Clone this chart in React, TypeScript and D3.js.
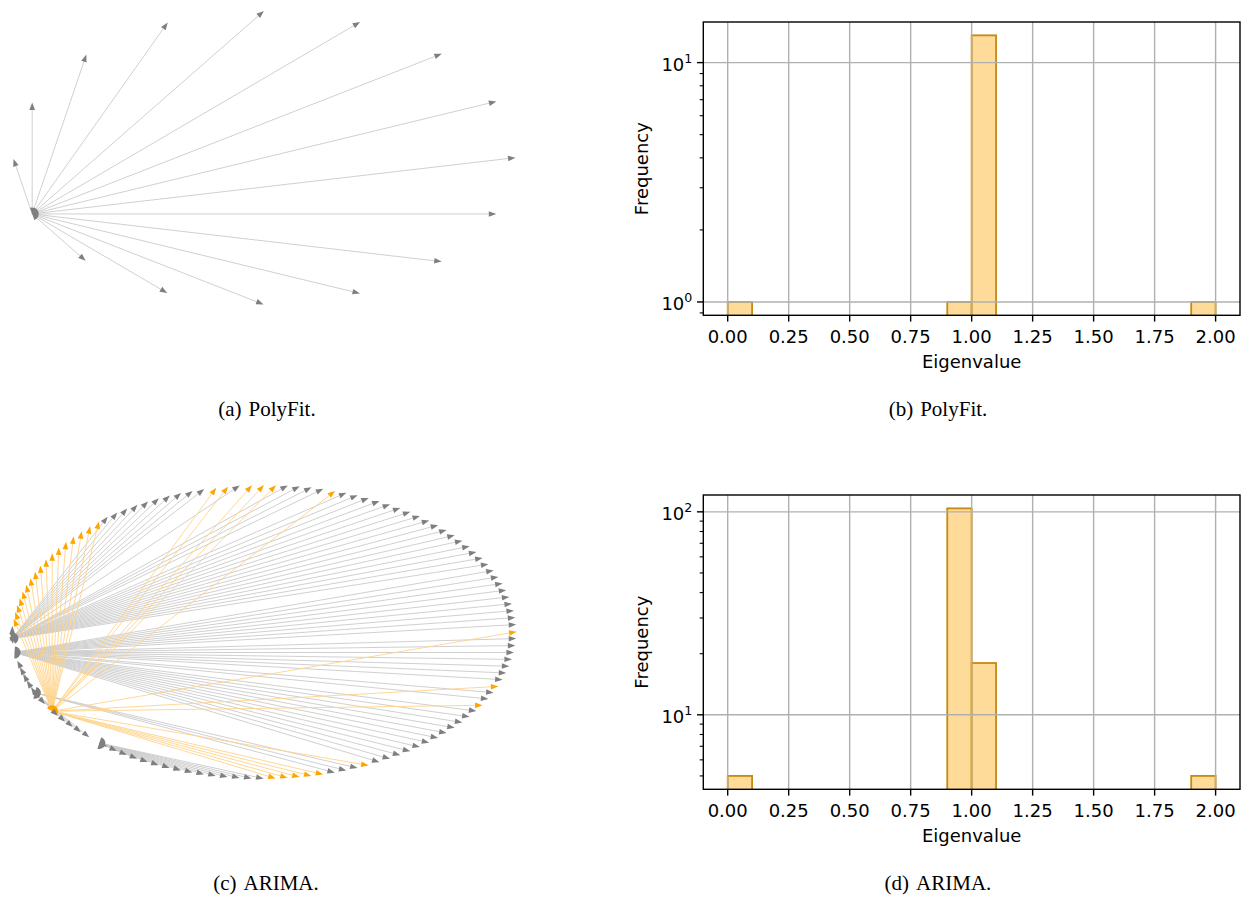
import React from 'react';
import * as d3 from 'd3';

const W = 1249;
const H = 901;

// ---------- (a) PolyFit network: circular layout, one hub ----------
const polyNodeCount = 16;
const polyHub = 9;
const polyLeaves = [0, 1, 2, 3, 4, 5, 6, 7, 8, 10, 11, 12, 13, 14, 15];

// ---------- (c) ARIMA network: circular layout, five hubs ----------
const arimaNodeCount = 132;
const arimaHubs = [67, 69, 75, 78, 84];
const arimaHubColors = ['gray', 'gray', 'gray', 'orange', 'gray'];
// leaf index ranges [from, to] per hub
const arimaLeafRanges: number[][][] = [
  [[10, 26], [28, 31], [35, 35], [38, 47], [65, 66], [68, 68]],
  [[1, 9], [109, 120], [122, 123], [125, 131]],
  [[70, 74], [76, 77], [79, 83], [105, 107]],
  [[0, 0], [27, 27], [32, 34], [36, 37], [48, 64], [100, 104], [108, 108], [121, 121], [124, 124]],
  [[85, 99]],
];

// ---------- (b),(d) eigenvalue histograms ----------
const binWidth = 0.1;
const polyCounts = [1, 0, 0, 0, 0, 0, 0, 0, 0, 1, 13, 0, 0, 0, 0, 0, 0, 0, 0, 1];
const arimaCounts = [5, 0, 0, 0, 0, 0, 0, 0, 0, 104, 18, 0, 0, 0, 0, 0, 0, 0, 0, 5];
const xTicks = [0, 0.25, 0.5, 0.75, 1.0, 1.25, 1.5, 1.75, 2.0];
const xDomain = [-0.1, 2.1];

const captions = [
  { label: '(a)', name: 'PolyFit.' },
  { label: '(b)', name: 'PolyFit.' },
  { label: '(c)', name: 'ARIMA.' },
  { label: '(d)', name: 'ARIMA.' },
];

const COLORS = {
  gray: { line: '#cbcbcb', head: '#7f7f7f' },
  orange: { line: '#ffd48a', head: '#ffa500' },
};

function arrowGeom(sx: number, sy: number, tx: number, ty: number) {
  const dx = tx - sx, dy = ty - sy;
  const L = Math.hypot(dx, dy) || 1;
  const ux = dx / L, uy = dy / L;
  const shrink = 1.5, len = 7.5, hw = 2.8;
  const tipX = tx - ux * shrink, tipY = ty - uy * shrink;
  const bX = tipX - ux * len, bY = tipY - uy * len;
  const px = -uy, py = ux;
  return {
    x1: sx, y1: sy, x2: bX, y2: bY,
    head: `M${tipX},${tipY}L${bX + px * hw},${bY + py * hw}L${bX - px * hw},${bY - py * hw}Z`,
  };
}

function expand(ranges: number[][]) {
  const out: number[] = [];
  ranges.forEach(([a, b]) => { for (let i = a; i <= b; i++) out.push(i); });
  return out;
}

type Edge = { s: number; t: number; color: 'gray' | 'orange' };

function Network({ n, xRange, yRange, hubs, hubColors, edges, hubR }: {
  n: number; xRange: number[]; yRange: number[]; hubs: number[]; hubColors: string[]; edges: Edge[]; hubR: number;
}) {
  const sx = d3.scaleLinear().domain([-1, 1]).range(xRange);
  const sy = d3.scaleLinear().domain([-1, 1]).range(yRange);
  const pos = d3.range(n).map(i => {
    const a = (2 * Math.PI * i) / n;
    return [sx(Math.cos(a)), sy(Math.sin(a))];
  });
  const geoms = edges.map(e => ({ e, g: arrowGeom(pos[e.s][0], pos[e.s][1], pos[e.t][0], pos[e.t][1]) }));
  const ordered = [...geoms.filter(d => d.e.color === 'gray'), ...geoms.filter(d => d.e.color === 'orange')];
  const arc = d3.arc();
  return (
    <g>
      {ordered.map((d, i) => (
        <line key={'l' + i} x1={d.g.x1} y1={d.g.y1} x2={d.g.x2} y2={d.g.y2}
          stroke={COLORS[d.e.color].line} strokeWidth={0.9} />
      ))}
      {hubs.map((h, k) => {
        const out = edges.filter(e => e.s === h);
        let mx = 0, my = 0;
        out.forEach(e => {
          const dx = pos[e.t][0] - pos[h][0], dy = pos[e.t][1] - pos[h][1];
          const L = Math.hypot(dx, dy) || 1;
          mx += dx / L; my += dy / L;
        });
        const ang = Math.atan2(mx, -my);
        const path = arc({ innerRadius: 0, outerRadius: hubR, startAngle: ang - Math.PI / 2, endAngle: ang + Math.PI / 2 } as any) as string;
        return (
          <path key={'h' + k} d={path} transform={`translate(${pos[h][0]},${pos[h][1]})`}
            fill={COLORS[hubColors[k] as 'gray' | 'orange'].head} />
        );
      })}
      {ordered.map((d, i) => (
        <path key={'a' + i} d={d.g.head} fill={COLORS[d.e.color].head} />
      ))}
    </g>
  );
}

function Histogram({ counts, top, bottom, left, right, clipId }: {
  counts: number[]; top: number; bottom: number; left: number; right: number; clipId: string;
}) {
  const x = d3.scaleLinear().domain(xDomain).range([left, right]);
  const nz = counts.filter(c => c > 0);
  const lmin = Math.log10(d3.min(nz) as number);
  const lmax = Math.log10(d3.max(nz) as number);
  const m = 0.05 * (lmax - lmin);
  const y = d3.scaleLog().domain([Math.pow(10, lmin - m), Math.pow(10, lmax + m)]).range([bottom, top]);
  const [d0, d1] = y.domain();
  const majors: number[] = [];
  const minors: number[] = [];
  for (let e = Math.floor(Math.log10(d0)) - 1; e <= Math.ceil(Math.log10(d1)); e++) {
    for (let k = 1; k <= 9; k++) {
      const v = k * Math.pow(10, e);
      if (v >= d0 && v <= d1) (k === 1 ? majors : minors).push(v);
    }
  }
  const fmt = d3.format('.2f');
  const font = 'DejaVu Sans, sans-serif';
  const gridColor = '#b0b0b0';
  const edge = '#c48a12';
  return (
    <g>
      <defs>
        <clipPath id={clipId}>
          <rect x={left} y={top} width={right - left} height={bottom - top} />
        </clipPath>
      </defs>
      <g clipPath={`url(#${clipId})`}>
        {counts.map((c, i) => c > 0 ? (
          <rect key={i} x={x(i * binWidth)} y={y(c)} width={x((i + 1) * binWidth) - x(i * binWidth)}
            height={bottom + 20 - y(c)} fill="#ffdb99" stroke={edge} strokeWidth={1.8} />
        ) : null)}
        {xTicks.map(t => (
          <line key={'gx' + t} x1={x(t)} x2={x(t)} y1={top} y2={bottom} stroke={gridColor} strokeWidth={1.4} />
        ))}
        {majors.map(v => (
          <line key={'gy' + v} x1={left} x2={right} y1={y(v)} y2={y(v)} stroke={gridColor} strokeWidth={1.4} />
        ))}
      </g>
      <rect x={left} y={top} width={right - left} height={bottom - top} fill="none" stroke="#000" strokeWidth={1.4} />
      {xTicks.map(t => (
        <g key={'xt' + t}>
          <line x1={x(t)} x2={x(t)} y1={bottom} y2={bottom + 6.3} stroke="#000" strokeWidth={1.4} />
          <text x={x(t)} y={bottom + 28} textAnchor="middle" fontFamily={font} fontSize={18} fill="#000">{fmt(t)}</text>
        </g>
      ))}
      {majors.map(v => (
        <g key={'yt' + v}>
          <line x1={left - 6.3} x2={left} y1={y(v)} y2={y(v)} stroke="#000" strokeWidth={1.4} />
          <text x={left - 11} y={y(v) + 8} textAnchor="end" fontFamily={font} fontSize={18} fill="#000">
            10<tspan dy={-8} fontSize={12.6}>{Math.round(Math.log10(v))}</tspan>
          </text>
        </g>
      ))}
      {minors.map(v => (
        <line key={'ym' + v} x1={left - 3.6} x2={left} y1={y(v)} y2={y(v)} stroke="#000" strokeWidth={1.1} />
      ))}
      <text x={(left + right) / 2} y={bottom + 52.7} textAnchor="middle" fontFamily={font} fontSize={18} fill="#000">Eigenvalue</text>
      <text transform={`translate(648,${(top + bottom) / 2}) rotate(-90)`} textAnchor="middle" fontFamily={font} fontSize={18} fill="#000">Frequency</text>
    </g>
  );
}

function Caption({ x, y, label, name }: { x: number; y: number; label: string; name: string }) {
  return (
    <text x={x} y={y} textAnchor="middle" fontFamily="Liberation Serif, Times New Roman, serif" fontSize={21} fill="#000">
      {label}<tspan dx={7}>{name}</tspan>
    </text>
  );
}

export default function App() {
  const polyEdges: Edge[] = polyLeaves.map(t => ({ s: polyHub, t, color: 'gray' }));
  const arimaEdges: Edge[] = [];
  arimaHubs.forEach((h, k) => {
    expand(arimaLeafRanges[k]).forEach(t => arimaEdges.push({ s: h, t, color: arimaHubColors[k] as 'gray' | 'orange' }));
  });
  const capPos = [[267, 416], [938, 416], [266, 890], [938, 890]];
  return (
    <svg width={W} height={H} style={{ position: 'absolute', left: 0, top: 0, background: '#fff' }}>
      <rect x={0} y={0} width={W} height={H} fill="#fff" />
      <Network n={polyNodeCount} xRange={[13, 517]} yRange={[305, 10]} hubs={[polyHub]} hubColors={['gray']} edges={polyEdges} hubR={6.5} />
      <Network n={arimaNodeCount} xRange={[12, 518]} yRange={[779, 484]} hubs={arimaHubs} hubColors={arimaHubColors} edges={arimaEdges} hubR={6} />
      <Histogram counts={polyCounts} top={22} bottom={315.3} left={703.3} right={1240} clipId="clipB" />
      <Histogram counts={arimaCounts} top={495} bottom={789.3} left={703.3} right={1240} clipId="clipD" />
      {captions.map((c, i) => (
        <Caption key={i} x={capPos[i][0]} y={capPos[i][1]} label={c.label} name={c.name} />
      ))}
    </svg>
  );
}
